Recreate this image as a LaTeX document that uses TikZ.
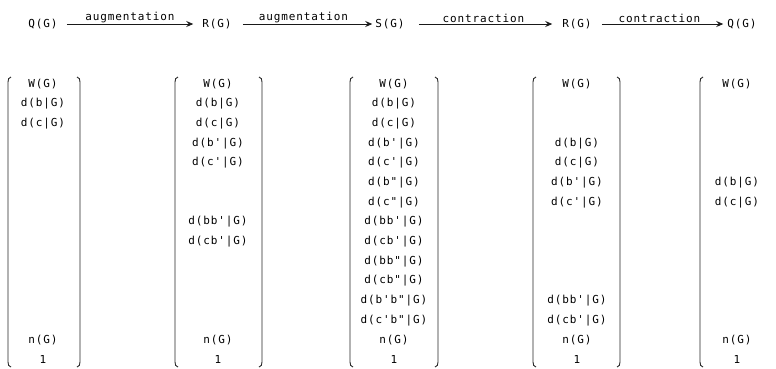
\documentclass[tikz,border=0pt]{standalone}
\usepackage{fontspec}
\newfontfamily\tabfont{DejaVu Sans Mono}[LetterSpace=8]
\usetikzlibrary{arrows.meta}
\tikzset{
  lbl/.style={font=\tabfont\fontsize{11}{12}\selectfont, text=black, inner sep=0pt, anchor=center},
  stage/.style={lbl},
  arrlab/.style={font=\tabfont\fontsize{11}{12}\selectfont, text=black, inner sep=0.5pt, above},
  maparrow/.style={draw=black!90, line width=0.8pt, -{Stealth[length=7pt,width=6pt,inset=2.5pt]}},
  brk/.style={draw=black!85, line width=0.9pt}
}
\begin{document}
\begin{tikzpicture}[x=1pt,y=-1pt]
\useasboundingbox (0,0) rectangle (776,368);

% top row: the five spaces and the maps between them
\node[stage] (q1) at (43,24) {Q(G)};
\node[stage] (r1) at (217,24) {R(G)};
\node[stage] (s1) at (390,24) {S(G)};
\node[stage] (r2) at (577,24) {R(G)};
\node[stage] (q2) at (742,24) {Q(G)};

\draw[maparrow, shorten <=9pt, shorten >=9pt] (q1.east) -- node[arrlab] (a1) {augmentation} (r1.west);
\draw[maparrow, shorten <=11pt, shorten >=3pt] (r1.east) -- node[arrlab] (a2) {augmentation} (s1.west);
\draw[maparrow, shorten <=14pt, shorten >=10pt] (s1.east) -- node[arrlab] (a3) {contraction} (r2.west);
\draw[maparrow, shorten <=10pt, shorten >=4pt] (r2.east) -- node[arrlab] (a4) {contraction} (q2.west);

% brackets: left ( and right ) of each column vector
\def\lbrk#1{\draw[brk] (#1+3,77) to[out=180,in=90] (#1,82) -- (#1,362) to[out=-90,in=180] (#1+3,367);}
\def\rbrk#1{\draw[brk] (#1-3,77) to[out=0,in=90] (#1,82) -- (#1,362) to[out=-90,in=0] (#1-3,367);}
\lbrk{8}   \rbrk{80}
\lbrk{175} \rbrk{262}
\lbrk{350} \rbrk{438}
\lbrk{533} \rbrk{620}
\lbrk{700}

% row positions
\def\ry#1{84+19.7*#1}

% column 1: Q(G)
\node[lbl] (c1w) at (43,{\ry{0}}) {W(G)};
\node[lbl] (c1b) at (43,{\ry{1}}) {d(b|G)};
\node[lbl] (c1c) at (43,{\ry{2}}) {d(c|G)};
\node[lbl] (c1n) at (43,{\ry{13}}) {n(G)};
\node[lbl] (c1o) at (43,{\ry{14}}) {1};

% column 2: R(G)
\node[lbl] (c2w) at (218,{\ry{0}}) {W(G)};
\node[lbl] (c2b) at (218,{\ry{1}}) {d(b|G)};
\node[lbl] (c2c) at (218,{\ry{2}}) {d(c|G)};
\node[lbl] (c2bp) at (218,{\ry{3}}) {d(b'|G)};
\node[lbl] (c2cp) at (218,{\ry{4}}) {d(c'|G)};
\node[lbl] (c2bbp) at (218,{\ry{7}}) {d(bb'|G)};
\node[lbl] (c2cbp) at (218,{\ry{8}}) {d(cb'|G)};
\node[lbl] (c2n) at (218,{\ry{13}}) {n(G)};
\node[lbl] (c2o) at (218,{\ry{14}}) {1};

% column 3: S(G)
\node[lbl] (c3w) at (394,{\ry{0}}) {W(G)};
\node[lbl] (c3b) at (394,{\ry{1}}) {d(b|G)};
\node[lbl] (c3c) at (394,{\ry{2}}) {d(c|G)};
\node[lbl] (c3bp) at (394,{\ry{3}}) {d(b'|G)};
\node[lbl] (c3cp) at (394,{\ry{4}}) {d(c'|G)};
\node[lbl] (c3bpp) at (394,{\ry{5}}) {d(b"|G)};
\node[lbl] (c3cpp) at (394,{\ry{6}}) {d(c"|G)};
\node[lbl] (c3bbp) at (394,{\ry{7}}) {d(bb'|G)};
\node[lbl] (c3cbp) at (394,{\ry{8}}) {d(cb'|G)};
\node[lbl] (c3bbpp) at (394,{\ry{9}}) {d(bb"|G)};
\node[lbl] (c3cbpp) at (394,{\ry{10}}) {d(cb"|G)};
\node[lbl] (c3bpbpp) at (394,{\ry{11}}) {d(b'b"|G)};
\node[lbl] (c3cpbpp) at (394,{\ry{12}}) {d(c'b"|G)};
\node[lbl] (c3n) at (394,{\ry{13}}) {n(G)};
\node[lbl] (c3o) at (394,{\ry{14}}) {1};

% column 4: R(G)
\node[lbl] (c4w) at (577,{\ry{0}}) {W(G)};
\node[lbl] (c4b) at (577,{\ry{3}}) {d(b|G)};
\node[lbl] (c4c) at (577,{\ry{4}}) {d(c|G)};
\node[lbl] (c4bp) at (577,{\ry{5}}) {d(b'|G)};
\node[lbl] (c4cp) at (577,{\ry{6}}) {d(c'|G)};
\node[lbl] (c4bbp) at (577,{\ry{11}}) {d(bb'|G)};
\node[lbl] (c4cbp) at (577,{\ry{12}}) {d(cb'|G)};
\node[lbl] (c4n) at (577,{\ry{13}}) {n(G)};
\node[lbl] (c4o) at (577,{\ry{14}}) {1};

% column 5: Q(G)
\node[lbl] (c5w) at (737,{\ry{0}}) {W(G)};
\node[lbl] (c5b) at (737,{\ry{5}}) {d(b|G)};
\node[lbl] (c5c) at (737,{\ry{6}}) {d(c|G)};
\node[lbl] (c5n) at (737,{\ry{13}}) {n(G)};
\node[lbl] (c5o) at (737,{\ry{14}}) {1};
\end{tikzpicture}
\end{document}
